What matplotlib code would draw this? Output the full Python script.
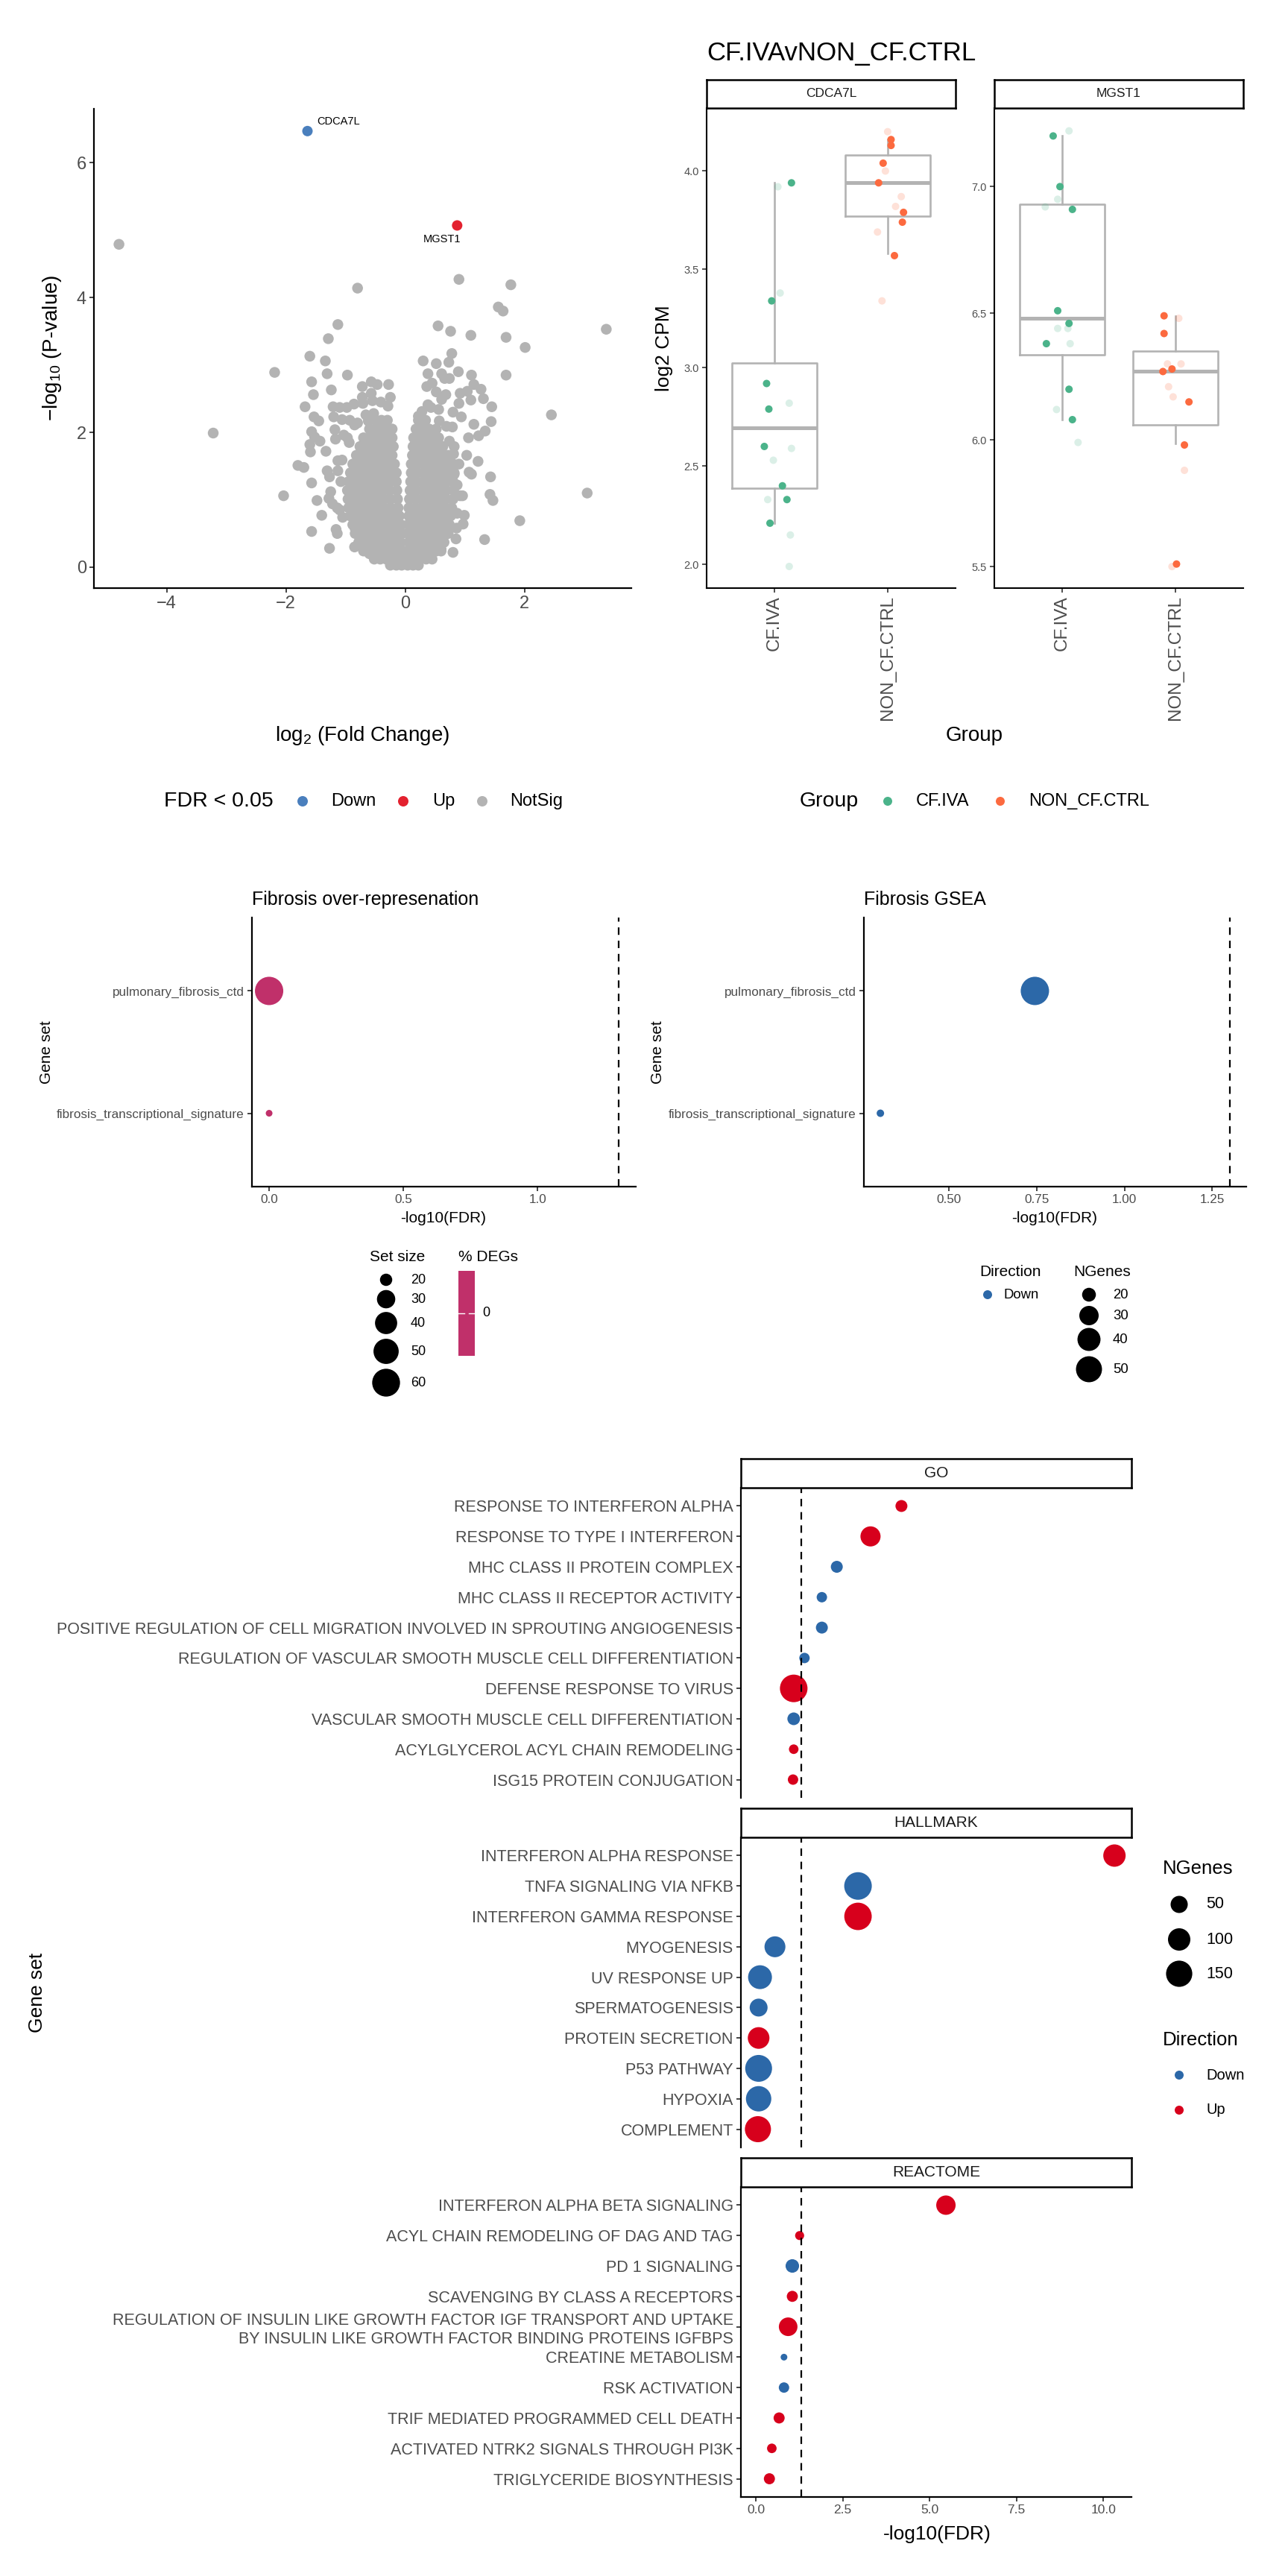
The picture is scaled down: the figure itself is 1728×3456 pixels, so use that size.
import numpy as np
import matplotlib
matplotlib.use("Agg")
import matplotlib.pyplot as plt
from matplotlib.patches import Rectangle

plt.rcParams['font.family'] = ['Liberation Sans', 'DejaVu Sans']
plt.rcParams['mathtext.fontset'] = 'custom'
plt.rcParams['mathtext.rm'] = 'Liberation Sans'
plt.rcParams['mathtext.default'] = 'regular'

W, H = 1728, 3456
PT = 0.72   # points per pixel at dpi 100

# ---------------- data ----------------
# volcano: scattered (non-significant) genes
volc_fc = [-4.80, -3.22, -2.19, -2.04, -0.80, 0.90, 1.77, 1.56, 1.64, 3.37, 0.55, 0.76, 1.10,
           1.69, 2.01, -1.13, -1.29, -1.60, -1.34, -1.31, -0.97, -1.57, -1.54, -1.24, -1.68,
           -0.72, -0.57, -0.47, -0.28, 0.30, 0.52, 0.73, 0.78, 0.89, 1.11, 1.69, 2.45, 3.05,
           1.92, 1.33, 1.43, 1.42, 1.47, 1.22, 1.44, 1.45, 1.31, 1.27, 1.15, 1.04, 1.10, 1.34,
           1.23, 1.15, 0.92, 0.90, 0.94, 1.06, 1.03, 1.07, 1.11, 0.97, 0.80, 0.85, 0.96, 0.99,
           -1.80, -1.70, -1.57, -1.57, -1.48, -1.40, -1.59, -1.60, -1.52, -1.43, -1.57, -1.53,
           -1.45, -1.33, -1.21, -1.10, -0.98, -1.20, -1.06, -0.93, -0.86, -1.18, -1.03, -0.94,
           -1.17, -1.31, -1.27, -1.25, -1.28, -1.22, -1.14, -1.16, -1.14, -1.27, -0.85, -0.84,
           -1.05, -1.10, -0.60, -1.13, -1.13, -1.06, -1.08, -0.97, -0.73, -0.85, -0.80, -0.72,
           -0.71, -0.57, -0.55, -0.41, -0.29, -0.25, -0.66, -0.53, -0.62,
           0.22, 0.28, 0.38, 0.43, 0.56, 0.61, 0.68, 0.45, 0.61, 0.38, 0.36, 0.52, 0.66, 0.74,
           0.80, 0.79, 0.69, 0.57, 0.74, 0.82, 0.81, 0.90, 0.82, 0.87, 0.92, 0.70, 0.87, 0.86,
           0.60, 0.45]
volc_p = [4.79, 1.99, 2.89, 1.06, 4.14, 4.27, 4.19, 3.86, 3.80, 3.53, 3.58, 3.50, 3.44,
          3.41, 3.26, 3.60, 3.39, 3.13, 3.06, 2.87, 2.85, 2.75, 2.56, 2.63, 2.38,
          2.68, 2.75, 2.71, 2.71, 3.06, 3.02, 3.04, 3.17, 2.90, 2.85, 2.85, 2.26, 1.10,
          0.69, 0.41, 1.34, 1.08, 0.99, 1.57, 2.16, 2.38, 2.50, 2.64, 2.71, 2.61, 2.48, 2.02,
          1.95, 2.12, 2.58, 2.43, 2.23, 1.92, 1.66, 1.41, 1.38, 0.64, 0.22, 0.42, 1.06, 0.77,
          1.51, 1.48, 1.25, 0.53, 0.99, 0.77, 1.71, 1.82, 1.93, 1.87, 2.01, 2.23,
          2.17, 1.72, 2.38, 2.37, 2.37, 2.23, 2.19, 2.18, 2.42, 2.04, 1.96, 1.85,
          1.90, 1.43, 1.34, 1.12, 1.02, 0.94, 0.88, 0.56, 0.50, 0.28, 0.30, 0.57,
          0.74, 0.85, 0.20, 1.43, 1.58, 1.59, 1.27, 1.92, 1.74, 2.11, 2.14, 2.52,
          2.43, 2.58, 2.47, 2.45, 2.39, 2.52, 2.26, 2.28, 2.17,
          2.24, 2.31, 2.41, 2.37, 2.34, 2.49, 2.56, 2.73, 2.87, 2.87, 2.68, 2.60, 2.80, 2.80,
          2.30, 2.08, 2.09, 2.17, 1.87, 1.79, 1.68, 1.53, 1.38, 1.22, 1.06, 0.84, 0.80, 0.58,
          0.27, 0.22]

# volcano: dense V-shaped core, read row by row (-log10 p, log2 FC values)
core_rows = [
    (0.03, [-0.25, -0.15, -0.06, 0.04, 0.13, 0.22]),
    (0.12, [-0.52, -0.42, -0.32, -0.22, -0.12, -0.03, 0.06, 0.15, 0.25, 0.35, 0.45]),
    (0.24, [-0.70, -0.60, -0.50, -0.40, -0.30, -0.20, -0.10, -0.03, 0.04, 0.12, 0.22, 0.32,
            0.42, 0.52, 0.60]),
    (0.37, [-0.78, -0.68, -0.58, -0.48, -0.38, -0.28, -0.18, -0.08, 0.06, 0.15, 0.25, 0.35,
            0.45, 0.55, 0.65]),
    (0.50, [-0.84, -0.74, -0.64, -0.54, -0.44, -0.34, -0.24, -0.13, -0.05, 0.05, 0.14, 0.24,
            0.34, 0.44, 0.54, 0.64, 0.72]),
    (0.63, [-0.88, -0.78, -0.68, -0.58, -0.48, -0.38, -0.28, -0.17, -0.07, 0.05, 0.15, 0.25,
            0.35, 0.45, 0.55, 0.65, 0.74]),
    (0.76, [-0.92, -0.82, -0.72, -0.62, -0.52, -0.42, -0.32, -0.21, -0.10, 0.06, 0.16, 0.26,
            0.36, 0.46, 0.56, 0.66, 0.76]),
    (0.88, [-0.95, -0.85, -0.75, -0.65, -0.55, -0.45, -0.35, -0.24, -0.12, 0.06, 0.17, 0.27,
            0.37, 0.47, 0.57, 0.67, 0.78]),
    (1.01, [-0.96, -0.86, -0.76, -0.66, -0.56, -0.46, -0.36, -0.25, -0.13, 0.07, 0.17, 0.28,
            0.38, 0.48, 0.58, 0.68, 0.80]),
    (1.14, [-0.97, -0.87, -0.77, -0.67, -0.57, -0.47, -0.37, -0.26, -0.14, 0.08, 0.18, 0.29,
            0.39, 0.49, 0.59, 0.69, 0.81]),
    (1.27, [-0.95, -0.85, -0.75, -0.65, -0.55, -0.45, -0.35, -0.25, -0.15, 0.09, 0.19, 0.30,
            0.40, 0.50, 0.60, 0.70, 0.80]),
    (1.40, [-0.92, -0.82, -0.72, -0.62, -0.52, -0.42, -0.32, -0.22, -0.15, 0.10, 0.20, 0.31,
            0.41, 0.51, 0.61, 0.71, 0.82]),
    (1.53, [-0.88, -0.78, -0.68, -0.58, -0.48, -0.38, -0.28, -0.18, 0.10, 0.21, 0.31, 0.41,
            0.51, 0.61, 0.71, 0.80]),
    (1.66, [-0.82, -0.72, -0.62, -0.52, -0.42, -0.32, -0.22, 0.12, 0.22, 0.32, 0.42, 0.52,
            0.62, 0.72]),
    (1.79, [-0.76, -0.66, -0.56, -0.46, -0.36, -0.26, -0.20, 0.13, 0.23, 0.33, 0.43, 0.53, 0.63]),
    (1.92, [-0.70, -0.60, -0.50, -0.40, -0.30, -0.22, 0.14, 0.24, 0.34, 0.44, 0.56]),
    (2.05, [-0.60, -0.50, -0.40, -0.30, -0.22, 0.18, 0.28, 0.40, 0.52]),
    (2.18, [-0.50, -0.40, -0.30, 0.22, 0.34]),
]

sig_genes = ["CDCA7L", "MGST1"]
sig_fc = [-1.64, 0.87]
sig_p = [6.47, 5.07]
sig_dir = ["Down", "Up"]

# boxplots (log2 CPM)
groups = ["CF.IVA", "NON_CF.CTRL"]
box_genes = ["CDCA7L", "MGST1"]
box_stats = {
    "CDCA7L": [(2.21, 2.386, 2.696, 3.025, 3.94), (3.58, 3.77, 3.94, 4.08, 4.16)],
    "MGST1": [(6.08, 6.335, 6.48, 6.93, 7.20), (5.985, 6.06, 6.27, 6.35, 6.49)],
}
box_ylim = {"CDCA7L": (1.88, 4.32), "MGST1": (5.415, 7.31)}
box_yticks = {"CDCA7L": [2.0, 2.5, 3.0, 3.5, 4.0], "MGST1": [5.5, 6.0, 6.5, 7.0]}
# jittered samples: (x position, value)
cdca7l_solid_x = [1.15, 0.975, 0.93, 0.95, 0.91, 1.07, 1.11, 0.96, 2.03, 2.03, 1.96, 1.92, 2.14, 2.13, 2.06]
cdca7l_solid_y = [3.94, 3.34, 2.92, 2.79, 2.60, 2.40, 2.33, 2.21, 4.16, 4.13, 4.04, 3.94, 3.79, 3.74, 3.57]
cdca7l_solid_g = [0] * 8 + [1] * 7
cdca7l_faint_x = [1.03, 1.05, 1.13, 1.15, 0.99, 0.94, 1.14, 1.13, 2.00, 1.98, 2.12, 2.07, 1.91, 1.95]
cdca7l_faint_y = [3.92, 3.38, 2.82, 2.59, 2.53, 2.33, 2.15, 1.99, 4.20, 4.00, 3.87, 3.82, 3.69, 3.34]
cdca7l_faint_g = [0] * 8 + [1] * 6
mgst1_solid_x = [0.92, 0.98, 1.09, 0.96, 1.06, 0.86, 1.06, 1.09, 1.90, 1.90, 1.89, 1.97, 2.12, 2.08, 2.01]
mgst1_solid_y = [7.20, 7.00, 6.91, 6.51, 6.46, 6.38, 6.20, 6.08, 6.49, 6.42, 6.27, 6.28, 6.15, 5.98, 5.51]
mgst1_solid_g = [0] * 8 + [1] * 7
mgst1_faint_x = [1.06, 0.96, 0.85, 0.96, 1.05, 1.07, 0.95, 1.14, 2.03, 1.93, 2.05, 1.94, 1.98, 2.08, 1.97]
mgst1_faint_y = [7.22, 6.95, 6.92, 6.44, 6.44, 6.38, 6.12, 5.99, 6.48, 6.30, 6.30, 6.21, 6.17, 5.88, 5.50]
mgst1_faint_g = [0] * 8 + [1] * 7

# fibrosis gene sets (top to bottom)
fib_sets = ["pulmonary_fibrosis_ctd", "fibrosis_transcriptional_signature"]
ora_fdr = [0.0, 0.0]
ora_size = [62, 17]
gsea_fdr = [0.745, 0.305]
gsea_ngenes = [59, 16]

# GO / HALLMARK / REACTOME enrichment (top to bottom)
go_sets = ["RESPONSE TO INTERFERON ALPHA", "RESPONSE TO TYPE I INTERFERON",
           "MHC CLASS II PROTEIN COMPLEX", "MHC CLASS II RECEPTOR ACTIVITY",
           "POSITIVE REGULATION OF CELL MIGRATION INVOLVED IN SPROUTING ANGIOGENESIS",
           "REGULATION OF VASCULAR SMOOTH MUSCLE CELL DIFFERENTIATION",
           "DEFENSE RESPONSE TO VIRUS", "VASCULAR SMOOTH MUSCLE CELL DIFFERENTIATION",
           "ACYLGLYCEROL ACYL CHAIN REMODELING", "ISG15 PROTEIN CONJUGATION"]
go_fdr = [4.19, 3.30, 2.33, 1.90, 1.90, 1.40, 1.09, 1.09, 1.09, 1.07]
go_ngenes = [20, 76, 20, 15, 20, 15, 170, 23, 13, 15]
go_dir = ["Up", "Up", "Down", "Down", "Down", "Down", "Up", "Down", "Up", "Up"]

hm_sets = ["INTERFERON ALPHA RESPONSE", "TNFA SIGNALING VIA NFKB", "INTERFERON GAMMA RESPONSE",
           "MYOGENESIS", "UV RESPONSE UP", "SPERMATOGENESIS", "PROTEIN SECRETION",
           "P53 PATHWAY", "HYPOXIA", "COMPLEMENT"]
hm_fdr = [10.32, 2.94, 2.94, 0.55, 0.12, 0.08, 0.08, 0.08, 0.08, 0.06]
hm_ngenes = [100, 170, 168, 84, 118, 56, 92, 159, 138, 148]
hm_dir = ["Up", "Down", "Up", "Down", "Down", "Down", "Up", "Down", "Down", "Up"]

re_sets = ["INTERFERON ALPHA BETA SIGNALING", "ACYL CHAIN REMODELING OF DAG AND TAG",
           "PD 1 SIGNALING", "SCAVENGING BY CLASS A RECEPTORS",
           "REGULATION OF INSULIN LIKE GROWTH FACTOR IGF TRANSPORT AND UPTAKE\n"
           "BY INSULIN LIKE GROWTH FACTOR BINDING PROTEINS IGFBPS",
           "CREATINE METABOLISM", "RSK ACTIVATION", "TRIF MEDIATED PROGRAMMED CELL DEATH",
           "ACTIVATED NTRK2 SIGNALS THROUGH PI3K", "TRIGLYCERIDE BIOSYNTHESIS"]
re_fdr = [5.47, 1.26, 1.05, 1.05, 0.93, 0.81, 0.81, 0.67, 0.46, 0.39]
re_ngenes = [69, 12, 27, 17, 62, 10, 15, 17, 13, 17]
re_dir = ["Up", "Up", "Down", "Up", "Up", "Down", "Down", "Up", "Up", "Up"]

FDR_LINE = -np.log10(0.05)

# ---------------- style ----------------
GREY = '#b3b3b3'
VOL_COL = {"Down": '#4a7fbd', "Up": '#e3212f', "NotSig": GREY}
GRP_COL = ['#4bb38a', '#fc6a3f']
DIR_COL = {"Down": '#2c68a8', "Up": '#d7001c'}
ORA_COL = '#c0306a'
TXT = '#4d4d4d'


def ora_d(n):      # marker diameter (px) for set size, fibrosis ORA
    return 9 + 29 * np.sqrt((np.asarray(n, float) - 17) / 45)


def gsea_d(n):
    return 10 + 28 * np.sqrt((np.asarray(n, float) - 16) / 43)


def enr_d(n):
    return 9 + 28 * np.sqrt((np.asarray(n, float) - 10) / 160)


def s_of(d):
    return (np.asarray(d, float) * PT) ** 2


fig = plt.figure(figsize=(W / 100, H / 100), dpi=100)


def px_axes(x0, y0, x1, y1):
    return fig.add_axes([x0 / W, 1 - y1 / H, (x1 - x0) / W, (y1 - y0) / H])


def classic(ax, lw=1.6):
    for s in ['top', 'right']:
        ax.spines[s].set_visible(False)
    for s in ['left', 'bottom']:
        ax.spines[s].set_linewidth(lw)
        ax.spines[s].set_color('black')
    ax.tick_params(length=4.3, width=lw * 0.8, color='#333333', labelcolor=TXT, pad=3)


def strip(x0, y0, x1, y1, label, size):
    sa = px_axes(x0, y0, x1, y1)
    sa.set_xticks([])
    sa.set_yticks([])
    for s in sa.spines.values():
        s.set_linewidth(1.8)
    sa.text(0.5, 0.5, label, ha='center', va='center', fontsize=size, color='#1a1a1a',
            transform=sa.transAxes)


# overlay in pixel coordinates for titles, axis titles and legends
ov = fig.add_axes([0, 0, 1, 1])
ov.set_xlim(0, W)
ov.set_ylim(H, 0)
ov.axis('off')
ov.set_zorder(10)
ov.patch.set_alpha(0)


def txt(x, y, s, size, ha='left', va='center', **kw):
    ov.text(x, y, s, fontsize=size, ha=ha, va=va, **kw)


def key(x, y, d, color):
    ov.scatter([x], [y], s=s_of(d), color=color, edgecolors='none')


# ---------------- volcano ----------------
core_fc = [x for y, xs in core_rows for x in xs]
core_p = [y for y, xs in core_rows for _ in xs]

ax = px_axes(126, 146, 847, 789)
ax.scatter(core_fc + volc_fc, core_p + volc_p, s=s_of(14.5), color=GREY, edgecolors='none')
ax.scatter(sig_fc, sig_p, s=s_of(14), c=[VOL_COL[d] for d in sig_dir], edgecolors='none')
ax.annotate(sig_genes[0], (sig_fc[0], sig_p[0]), xytext=(9.4, 9.4), textcoords='offset points',
            ha='left', va='center', fontsize=10.5)
ax.annotate(sig_genes[1], (sig_fc[1], sig_p[1]), xytext=(-14.4, -13.7), textcoords='offset points',
            ha='center', va='center', fontsize=10.5)
ax.set_xlim(-5.22, 3.79)
ax.set_ylim(-0.31, 6.80)
ax.set_xticks([-4, -2, 0, 2])
ax.set_yticks([0, 2, 4, 6])
classic(ax)
ax.tick_params(labelsize=17)
txt(70, 467, '−log$_{10}$ (P-value)', 20, ha='center', rotation=90)
txt(486, 987, 'log$_{2}$ (Fold Change)', 20, ha='center')

# ---------------- boxplots ----------------
box_pts = {
    "CDCA7L": (cdca7l_solid_x, cdca7l_solid_y, cdca7l_solid_g,
               cdca7l_faint_x, cdca7l_faint_y, cdca7l_faint_g),
    "MGST1": (mgst1_solid_x, mgst1_solid_y, mgst1_solid_g,
              mgst1_faint_x, mgst1_faint_y, mgst1_faint_g),
}
for gene, (x0, x1) in zip(box_genes, [(948, 1282), (1334, 1668)]):
    bx = px_axes(x0, 145, x1, 789)
    stats = [dict(whislo=a, q1=b, med=c, q3=d, whishi=e) for a, b, c, d, e in box_stats[gene]]
    bx.bxp(stats, positions=[1, 2], widths=0.75, showfliers=False, showcaps=False,
           boxprops=dict(color=GREY, lw=1.9), whiskerprops=dict(color=GREY, lw=1.9),
           medianprops=dict(color=GREY, lw=3.6))
    sx, sy, sg, fx, fy, fg = box_pts[gene]
    bx.scatter(fx, fy, s=s_of(10), c=[GRP_COL[g] for g in fg], alpha=0.2, edgecolors='none', zorder=3)
    bx.scatter(sx, sy, s=s_of(10), c=[GRP_COL[g] for g in sg], edgecolors='none', zorder=4)
    bx.set_xlim(0.4, 2.6)
    bx.set_ylim(*box_ylim[gene])
    bx.set_yticks(box_yticks[gene])
    bx.set_yticklabels([f"{v:.1f}" for v in box_yticks[gene]])
    bx.set_xticks([1, 2])
    bx.set_xticklabels(groups, rotation=90)
    classic(bx, lw=1.5)
    bx.tick_params(axis='y', labelsize=10.5)
    bx.tick_params(axis='x', labelsize=17.5)
    strip(x0, 107, x1, 145, gene, 12.5)
txt(948, 71, 'CF.IVAvNON_CF.CTRL', 25)
txt(891, 467, 'log2 CPM', 19, ha='center', rotation=90)
txt(1307, 987, 'Group', 20, ha='center')

# legends row
txt(220, 1075, 'FDR < 0.05', 20.5)
for (x, lab), xl in zip([(406, "Down"), (541, "Up"), (647, "NotSig")], [444, 580, 684]):
    key(x, 1075, 14, VOL_COL[lab])
    txt(xl, 1075, lab, 17)
txt(1073, 1075, 'Group', 20.5)
for gi, (x, xl) in enumerate([(1191, 1229), (1342, 1380)]):
    key(x, 1075, 12, GRP_COL[gi])
    txt(xl, 1075, groups[gi], 17)

# ---------------- fibrosis ORA ----------------
fy = [2, 1]
ax = px_axes(338, 1231, 853, 1592)
ax.scatter(ora_fdr, fy, s=s_of(ora_d(ora_size)), color=ORA_COL, edgecolors='none', zorder=3)
ax.axvline(FDR_LINE, color='black', lw=1.6, ls=(0, (4.5, 3.5)), zorder=4)
ax.set_xlim(-0.064, 1.366)
ax.set_ylim(0.4, 2.6)
ax.set_xticks([0, 0.5, 1.0])
ax.set_xticklabels(["0.0", "0.5", "1.0"])
ax.set_yticks(fy)
ax.set_yticklabels(fib_sets)
classic(ax)
ax.tick_params(labelsize=12.3)
txt(338, 1207, 'Fibrosis over-represenation', 18)
txt(595, 1634, '-log10(FDR)', 15, ha='center')
txt(62, 1412, 'Gene set', 15, ha='center', rotation=90)
# legend: set size + % DEGs
txt(496, 1686, 'Set size', 15)
for v, y in zip([20, 30, 40, 50, 60], [1717, 1743, 1775, 1813, 1855]):
    key(518, y, float(ora_d(v)), 'black')
    txt(551, y, str(v), 13)
txt(615, 1686, '% DEGs', 15)
ov.add_patch(Rectangle((615, 1705), 22, 114, color=ORA_COL, lw=0))
ov.plot([615, 623], [1762, 1762], color='white', lw=1)
ov.plot([629, 637], [1762, 1762], color='white', lw=1)
txt(647, 1762, '0', 13)

# ---------------- fibrosis GSEA ----------------
ax = px_axes(1159, 1231, 1672, 1592)
ax.scatter(gsea_fdr, fy, s=s_of(gsea_d(gsea_ngenes)), color=DIR_COL["Down"], edgecolors='none', zorder=3)
ax.axvline(FDR_LINE, color='black', lw=1.6, ls=(0, (4.5, 3.5)), zorder=4)
ax.set_xlim(0.258, 1.347)
ax.set_ylim(0.4, 2.6)
ax.set_xticks([0.5, 0.75, 1.0, 1.25])
ax.set_xticklabels(["0.50", "0.75", "1.00", "1.25"])
ax.set_yticks(fy)
ax.set_yticklabels(fib_sets)
classic(ax)
ax.tick_params(labelsize=12.3)
txt(1159, 1207, 'Fibrosis GSEA', 18)
txt(1415, 1634, '-log10(FDR)', 15, ha='center')
txt(882, 1412, 'Gene set', 15, ha='center', rotation=90)
txt(1314, 1706, 'Direction', 15)
key(1325, 1737, 12, DIR_COL["Down"])
txt(1347, 1737, 'Down', 13.3)
txt(1440, 1706, 'NGenes', 15)
for v, y in zip([20, 30, 40, 50], [1737, 1765, 1797, 1837]):
    key(1461, y, float(gsea_d(v)), 'black')
    txt(1493, y, str(v), 13.3)

# ---------------- GO / HALLMARK / REACTOME ----------------
panels = [("GO", go_sets, go_fdr, go_ngenes, go_dir, 1957, 1996, 2412),
          ("HALLMARK", hm_sets, hm_fdr, hm_ngenes, hm_dir, 2426, 2465, 2881),
          ("REACTOME", re_sets, re_fdr, re_ngenes, re_dir, 2895, 2934, 3350)]
for name, sets, fdr, ng, dirs, st, y0, y1 in panels:
    ax = px_axes(994, y0, 1518, y1)
    pos = np.arange(len(sets))
    ax.scatter(fdr, pos, s=s_of(enr_d(ng)), c=[DIR_COL[d] for d in dirs], edgecolors='none', zorder=3)
    ax.axvline(FDR_LINE, color='black', lw=1.6, ls=(0, (4.5, 3.5)), zorder=4)
    ax.set_xlim(-0.43, 10.81)
    ax.set_ylim(len(sets) - 0.4, -0.6)
    ax.set_yticks(pos)
    ax.set_yticklabels(sets)
    classic(ax)
    ax.tick_params(axis='y', labelsize=15.5)
    for lab in ax.get_yticklabels():
        lab.set_linespacing(1.25)
    if name == "REACTOME":
        ax.set_xticks([0, 2.5, 5.0, 7.5, 10.0])
        ax.set_xticklabels(["0.0", "2.5", "5.0", "7.5", "10.0"])
        ax.tick_params(axis='x', labelsize=12.5)
    else:
        ax.spines['bottom'].set_visible(False)
        ax.set_xticks([])
    strip(994, st, 1518, y0, name, 15)
txt(1257, 3400, '-log10(FDR)', 19, ha='center')
txt(50, 2673, 'Gene set', 19, ha='center', rotation=90)
txt(1560, 2507, 'NGenes', 18.5)
for v, y in zip([50, 100, 150], [2555, 2602, 2648]):
    key(1582, y, float(enr_d(v)), 'black')
    txt(1618, y, str(v), 15.5)
txt(1560, 2737, 'Direction', 18.5)
for lab, y in zip(["Down", "Up"], [2784, 2831]):
    key(1582, y, 12, DIR_COL[lab])
    txt(1618, y, lab, 14.5)

fig.savefig("out.png", dpi=100, facecolor="white")
